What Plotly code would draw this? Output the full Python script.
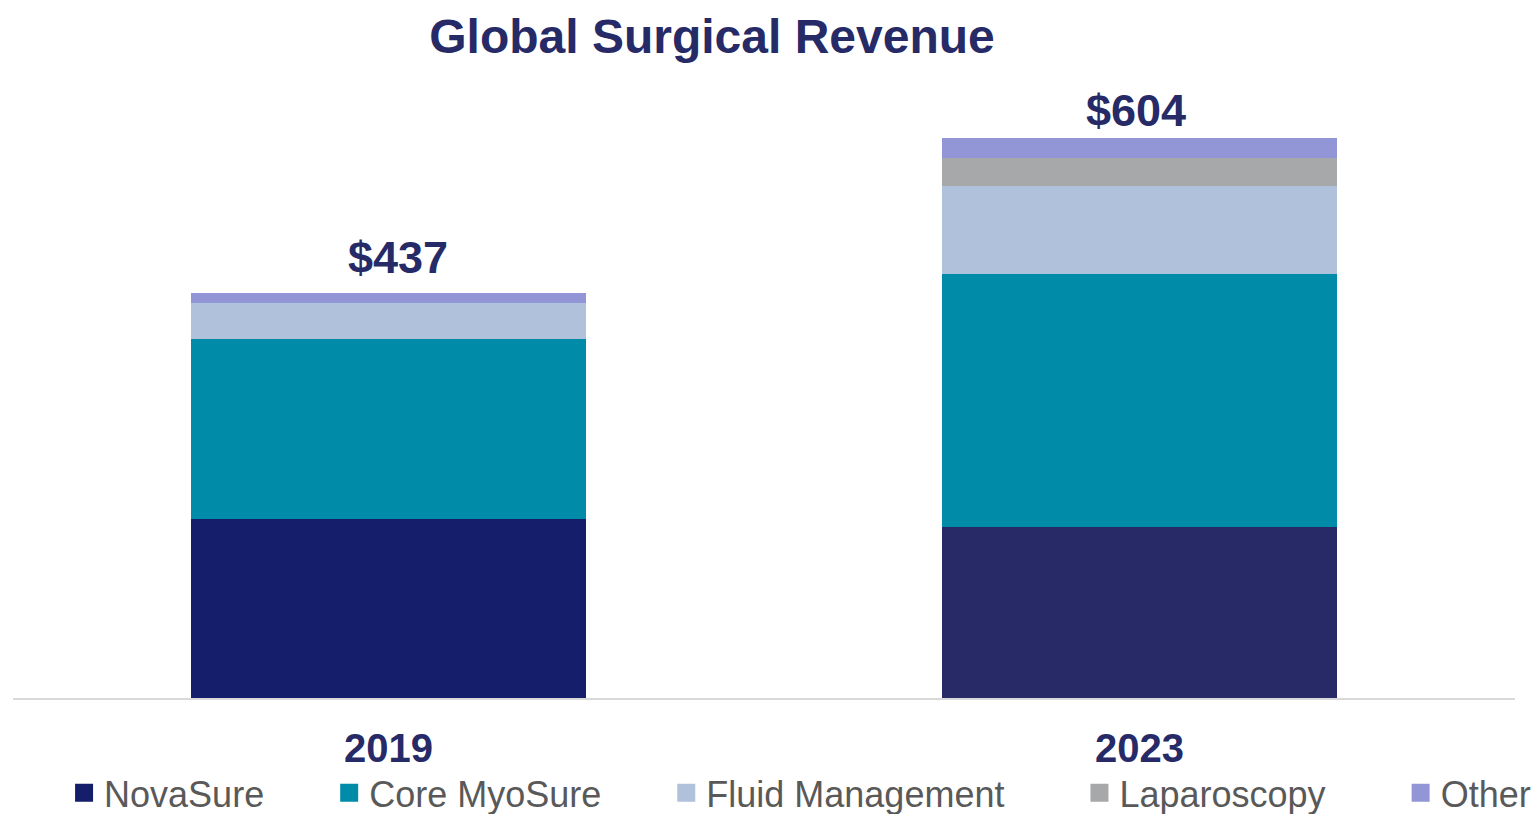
import plotly.graph_objects as go

# Revenue by franchise ($M)
years = ["2019", "2023"]
segments = ["NovaSure", "Core MyoSure", "Fluid Management", "Laparoscopy", "Other"]
novasure = [193, 184]
core_myosure = [194, 273]
fluid_mgmt = [39, 95]
laparoscopy = [0, 31]
other = [11, 21]

series = [novasure, core_myosure, fluid_mgmt, laparoscopy, other]
totals = [sum(v) for v in zip(*series)]

colors = ["#141E6B", "#008CA8", "#B0C1DB", "#A7A8AA", "#9396D6"]
# the 2023 NovaSure block is a slightly different navy in the original
bar_colors = [["#141E6B", "#282A67"]] + [[c, c] for c in colors[1:]]

navy = "#262A67"
NBSP = "\u00a0"
pads = [6, 6, 7, 7, 0]

fig = go.Figure()

for name, vals, cols in zip(segments, series, bar_colors):
    fig.add_trace(go.Bar(
        x=years, y=vals, name=name,
        marker=dict(color=cols, line=dict(width=0)),
        showlegend=False,
        hovertemplate=name + ": $%{y}<extra></extra>",
    ))

# legend-only entries (on a hidden overlay axis) so the squares can be bigger
for name, col, p in zip(segments, colors, pads):
    fig.add_trace(go.Scatter(
        x=[0], y=[0], mode="markers", name=name + NBSP * p,
        xaxis="x2", yaxis="y2",
        marker=dict(symbol="square", size=16, color=col, line=dict(width=2, color=col)),
        hoverinfo="skip",
    ))

# total labels above each stack (category axis -> use category index)
xshifts = [9, -4]
yshifts = [8, 0]
for i, (tot, xs, ys) in enumerate(zip(totals, xshifts, yshifts)):
    fig.add_annotation(
        x=i, y=tot, xref="x", yref="y", text=f"${tot}", showarrow=False,
        yanchor="bottom", yshift=ys, xshift=xs,
        font=dict(family="Arial, Liberation Sans", size=45, color=navy, weight="bold"),
    )

fig.update_layout(
    barmode="stack",
    bargap=0.474,
    width=1539, height=814,
    margin=dict(l=13, r=24, t=90, b=116, autoexpand=False),
    paper_bgcolor="white", plot_bgcolor="white",
    font=dict(family="Arial, Liberation Sans"),
    title=dict(
        text="<b>Global Surgical Revenue</b>",
        x=712 / 1539, xref="container", xanchor="center",
        y=1 - 36 / 814, yref="container", yanchor="middle",
        font=dict(family="Arial, Liberation Sans", size=48, color=navy),
    ),
    xaxis=dict(
        type="category", categoryorder="array", categoryarray=years,
        range=[-0.5, 1.5], automargin=False,
        showline=True, linecolor="#D9D9D9", linewidth=2,
        showgrid=False, ticks="", ticklabelstandoff=14,
        tickfont=dict(family="Arial, Liberation Sans", size=40, color=navy, weight="bold"),
    ),
    yaxis=dict(visible=False, range=[0, 656]),
    xaxis2=dict(overlaying="x", visible=False, range=[10, 11]),
    yaxis2=dict(overlaying="y", visible=False, range=[10, 11]),
    showlegend=True,
    legend=dict(
        orientation="h", traceorder="normal", bgcolor="rgba(0,0,0,0)",
        x=0.034, xanchor="left", y=-0.156, yanchor="middle",
        font=dict(family="Arial, Liberation Sans", size=36, color="#595959"),
        itemclick=False, itemdoubleclick=False,
    ),
)

fig.write_html("out.html", config={"displayModeBar": False},
               post_script="document.body.style.margin='0';")
